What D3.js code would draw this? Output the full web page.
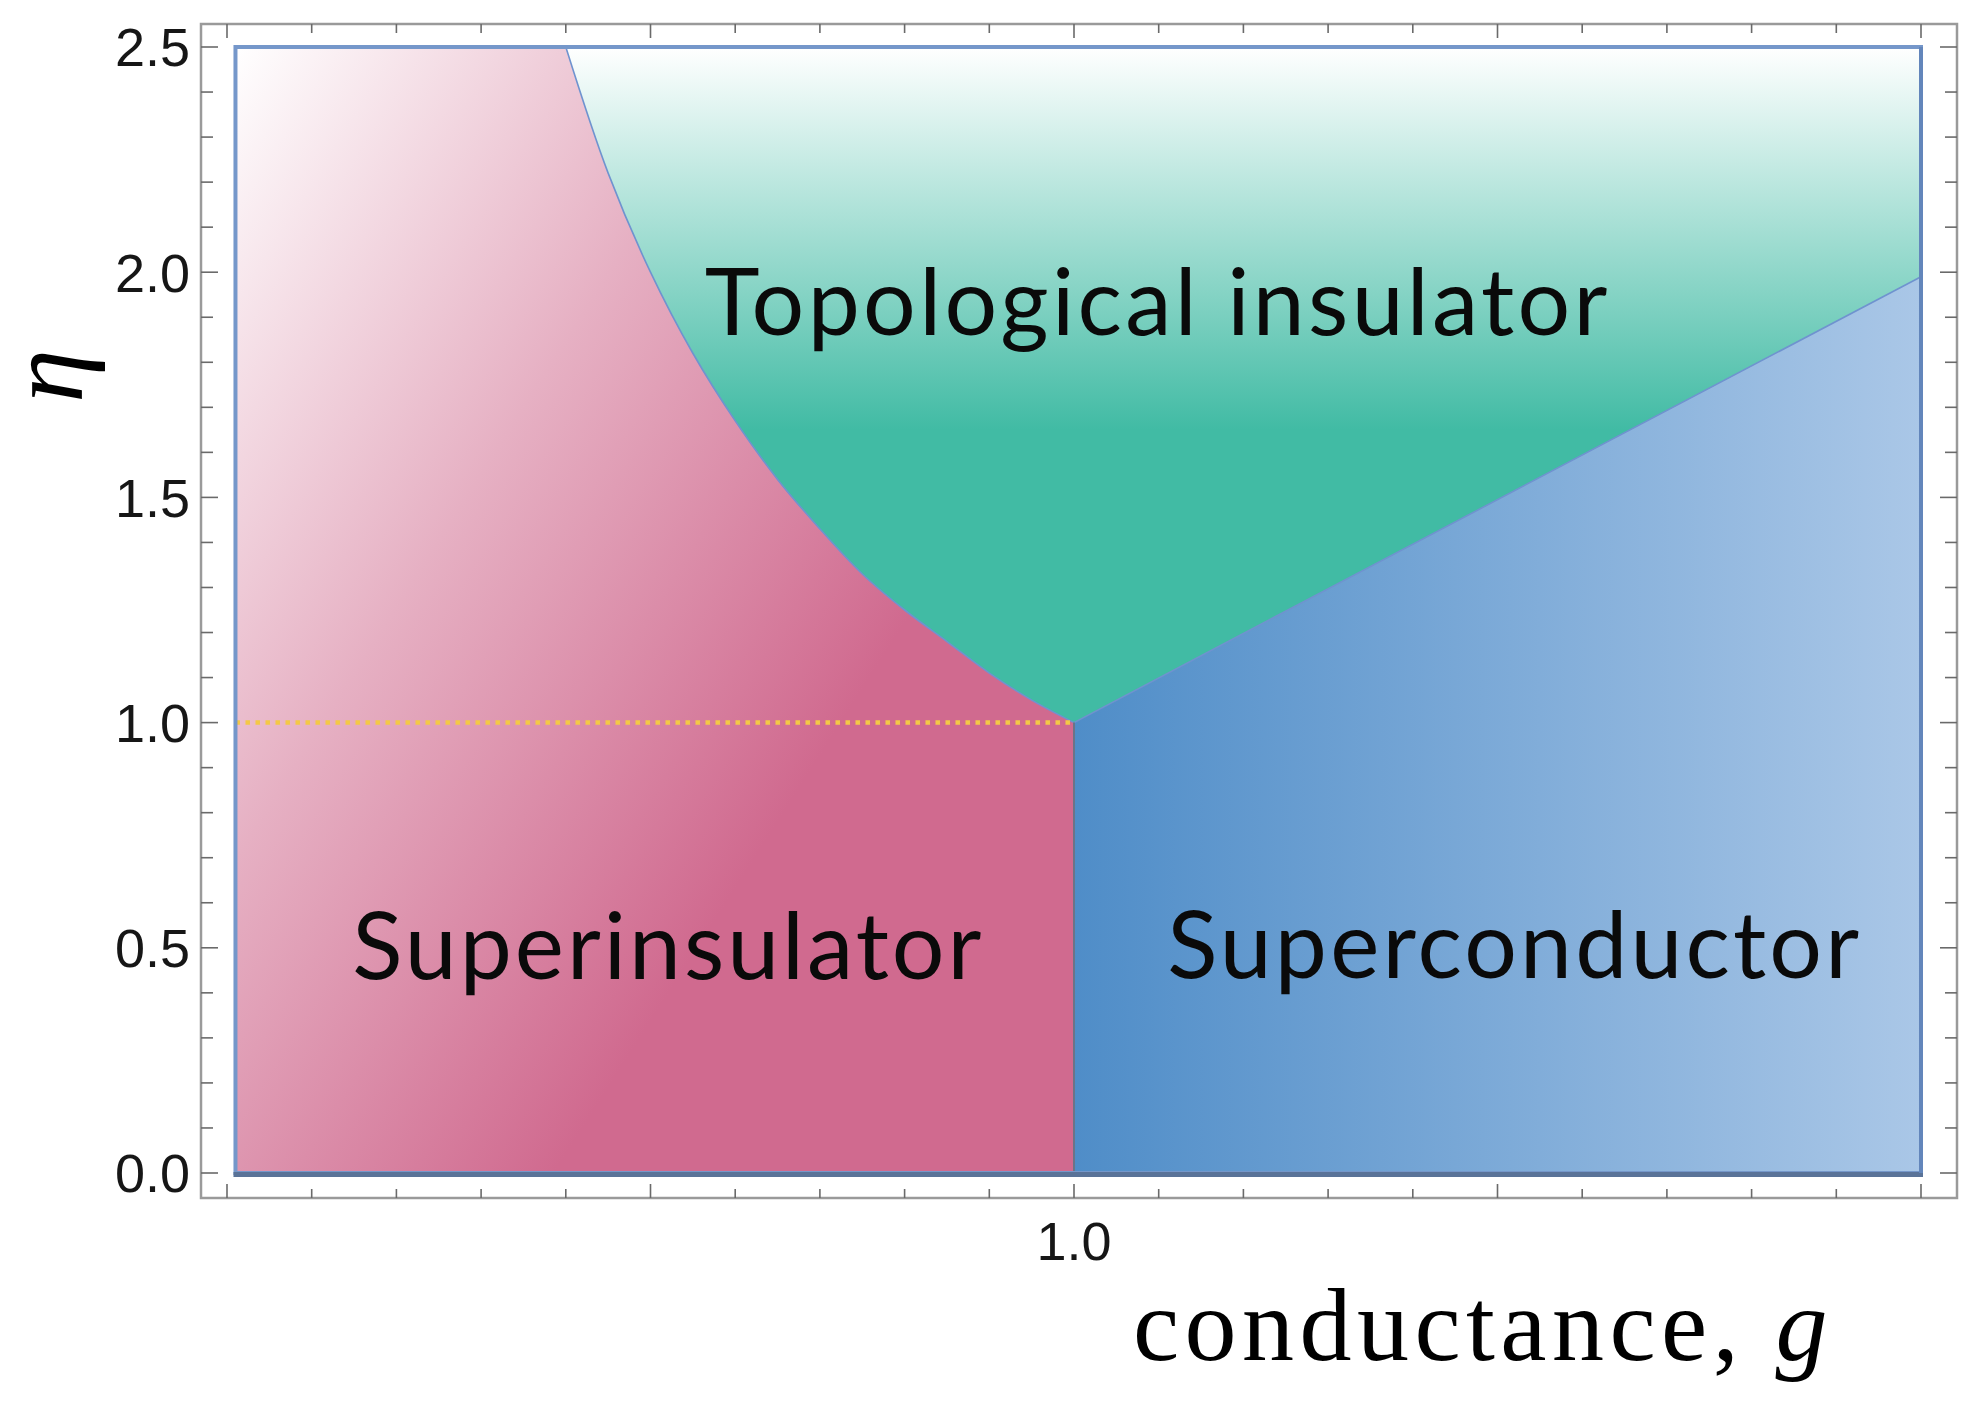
<!DOCTYPE html>
<html>
<head>
<meta charset="utf-8">
<script src="https://cdn.jsdelivr.net/npm/d3@7"></script>
<style>
  body { margin: 0; background: #ffffff; }
</style>
</head>
<body>
<div id="chart"></div>
<script>
// Boundary superinsulator / topological insulator
var siTiG   = [0.40, 0.45, 0.50, 0.55, 0.60, 0.65, 0.70, 0.75, 0.80, 0.85, 0.90, 0.95, 1.00];
var siTiEta = [2.50, 2.22, 2.00, 1.82, 1.67, 1.54, 1.43, 1.33, 1.25, 1.18, 1.11, 1.05, 1.00];

// Boundary superconductor / topological insulator
var scTiG   = [1.00, 2.00];
var scTiEta = [1.00, 1.99];

// Boundary superinsulator / superconductor
var siScG   = [1.00, 1.00];
var siScEta = [0.00, 1.00];

// Dotted line at eta = 1
var dotG   = [0.01, 1.00];
var dotEta = [1.00, 1.00];

// Extent of the coloured region
var gRange   = [0.01, 2.00];
var etaRange = [0.00, 2.50];

var phaseNames  = ["Topological insulator", "Superinsulator", "Superconductor"];
var yTickLabels = [0.0, 0.5, 1.0, 1.5, 2.0, 2.5];
var xTickLabels = [1.0];

var W = 1986, H = 1414;
var frame = { left: 201, right: 1957, top: 24, bottom: 1198 };

var svg = d3.select("#chart").append("svg")
    .attr("width", W)
    .attr("height", H);

var x = d3.scaleLinear().domain([0, 2]).range([227, 1921]);
var y = d3.scaleLinear().domain([0, 2.5]).range([1173, 47]);

function pts(gs, etas) { return gs.map(function (g, i) { return [g, etas[i]]; }); }
var straight = d3.line().x(function (d) { return x(d[0]); }).y(function (d) { return y(d[1]); });
var smooth = d3.line().x(function (d) { return x(d[0]); }).y(function (d) { return y(d[1]); })
    .curve(d3.curveCatmullRom);

// Gradients
var defs = svg.append("defs");

var pink = defs.append("linearGradient").attr("id", "pinkGrad")
    .attr("gradientUnits", "userSpaceOnUse")
    .attr("x1", x(0.88)).attr("y1", y(1.457))
    .attr("x2", x(0.01)).attr("y2", y(2.5));
pink.append("stop").attr("offset", 0).attr("stop-color", "#d06a8f");
pink.append("stop").attr("offset", 0.5).attr("stop-color", "#e6b0c3");
pink.append("stop").attr("offset", 1).attr("stop-color", "#ffffff");

var teal = defs.append("linearGradient").attr("id", "tealGrad")
    .attr("gradientUnits", "userSpaceOnUse")
    .attr("x1", 0).attr("y1", y(2.5))
    .attr("x2", 0).attr("y2", y(1.65));
teal.append("stop").attr("offset", 0).attr("stop-color", "#ffffff");
teal.append("stop").attr("offset", 1).attr("stop-color", "#41bba4");

var blue = defs.append("linearGradient").attr("id", "blueGrad")
    .attr("gradientUnits", "userSpaceOnUse")
    .attr("x1", x(1)).attr("y1", 0)
    .attr("x2", x(2)).attr("y2", 0);
blue.append("stop").attr("offset", 0).attr("stop-color", "#4f8dc8");
blue.append("stop").attr("offset", 1).attr("stop-color", "#aac7e7");

// Frame (gray box)
svg.append("rect")
    .attr("x", frame.left).attr("y", frame.top)
    .attr("width", frame.right - frame.left)
    .attr("height", frame.bottom - frame.top)
    .attr("fill", "none")
    .attr("stroke", "#9a9a9a")
    .attr("stroke-width", 2.5);

// Ticks on all four sides, pointing inward
var ticks = svg.append("g").attr("stroke", "#6a6a6a").attr("stroke-width", 1.6);
var xMinor = x.ticks(20), xMajor = x.ticks(4);
var yMinor = y.ticks(25), yMajor = y.ticks(5);

xMinor.forEach(function (v) {
  var major = xMajor.some(function (m) { return Math.abs(m - v) < 1e-9; });
  var len = major ? 14 : 9;
  ticks.append("line").attr("x1", x(v)).attr("x2", x(v))
      .attr("y1", frame.bottom).attr("y2", frame.bottom - len);
  ticks.append("line").attr("x1", x(v)).attr("x2", x(v))
      .attr("y1", frame.top).attr("y2", frame.top + len);
});
yMinor.forEach(function (v) {
  var major = yMajor.some(function (m) { return Math.abs(m - v) < 1e-9; });
  var len = major ? 17 : 12;
  ticks.append("line").attr("y1", y(v)).attr("y2", y(v))
      .attr("x1", frame.left).attr("x2", frame.left + len);
  ticks.append("line").attr("y1", y(v)).attr("y2", y(v))
      .attr("x1", frame.right).attr("x2", frame.right - len);
});

// Tick labels
svg.append("g").selectAll("text")
    .data(yTickLabels)
    .enter().append("text")
    .attr("x", frame.left - 11)
    .attr("y", function (d) { return y(d); })
    .attr("dy", "0.36em")
    .attr("text-anchor", "end")
    .style("font-family", "'Liberation Sans', Arial, sans-serif")
    .style("font-size", "54px")
    .style("fill", "#161616")
    .text(function (d) { return d.toFixed(1); });

svg.append("g").selectAll("text")
    .data(xTickLabels)
    .enter().append("text")
    .attr("x", function (d) { return x(d); })
    .attr("y", 1260)
    .attr("text-anchor", "middle")
    .style("font-family", "'Liberation Sans', Arial, sans-serif")
    .style("font-size", "54px")
    .style("fill", "#161616")
    .text(function (d) { return d.toFixed(1); });

// Phase regions
var plot = svg.append("g");

// superinsulator: whole box in pink, the other phases are painted on top
plot.append("rect")
    .attr("x", x(gRange[0])).attr("y", y(etaRange[1]))
    .attr("width", x(gRange[1]) - x(gRange[0]))
    .attr("height", y(etaRange[0]) - y(etaRange[1]))
    .attr("fill", "url(#pinkGrad)");

var curvePts = pts(siTiG, siTiEta);
var scTiPts = pts(scTiG, scTiEta);
var tiPath = smooth(curvePts)
    + "L" + x(scTiG[1]) + "," + y(scTiEta[1])
    + "L" + x(gRange[1]) + "," + y(etaRange[1]) + "Z";
plot.append("path").attr("d", tiPath).attr("fill", "url(#tealGrad)");

var scPts = [[siScG[0], etaRange[0]], [gRange[1], etaRange[0]], scTiPts[1], scTiPts[0]];
plot.append("path").attr("d", straight(scPts) + "Z").attr("fill", "url(#blueGrad)");

// Phase boundaries
plot.append("path").attr("d", smooth(curvePts))
    .attr("fill", "none").attr("stroke", "#6f93cf").attr("stroke-width", 1.6);
plot.append("path").attr("d", straight(scTiPts))
    .attr("fill", "none").attr("stroke", "#6f93cf").attr("stroke-width", 1.6);
plot.append("path").attr("d", straight(pts(siScG, siScEta)))
    .attr("fill", "none").attr("stroke", "#6b7488").attr("stroke-width", 2);
plot.append("path").attr("d", straight(pts(dotG, dotEta)))
    .attr("fill", "none").attr("stroke", "#f4c846").attr("stroke-width", 4.5)
    .attr("stroke-dasharray", "4.5,5.5");

// Outline of the region
plot.append("rect")
    .attr("x", x(gRange[0])).attr("y", y(etaRange[1]))
    .attr("width", x(gRange[1]) - x(gRange[0]))
    .attr("height", y(etaRange[0]) - y(etaRange[1]))
    .attr("fill", "none")
    .attr("stroke", "#7597ca")
    .attr("stroke-width", 4);
plot.append("line")
    .attr("x1", x(gRange[0]) - 2).attr("x2", x(gRange[1]) + 2)
    .attr("y1", y(etaRange[0]) + 1.5).attr("y2", y(etaRange[0]) + 1.5)
    .attr("stroke", "#5a7398").attr("stroke-width", 5);
plot.append("line")
    .attr("x1", x(gRange[1])).attr("x2", x(gRange[1]))
    .attr("y1", y(etaRange[1])).attr("y2", y(etaRange[0]))
    .attr("stroke", "#6386bb").attr("stroke-width", 4);

// Stretch a text element to a given width through letter-spacing
function fitWidth(sel, target) {
  var n = sel.text().length;
  var w = sel.node().getComputedTextLength();
  sel.style("letter-spacing", ((target - w) / n) + "px");
}

// Phase labels
var labelFont = "Lato, 'Open Sans', sans-serif";
var labels = [
  { name: phaseNames[0], g: 0.564, eta: 1.861, width: 906 },
  { name: phaseNames[1], g: 0.148, eta: 0.430, width: 632 },
  { name: phaseNames[2], g: 1.110, eta: 0.432, width: 695 }
];
labels.forEach(function (l) {
  var t = svg.append("text")
      .attr("x", x(l.g))
      .attr("y", y(l.eta))
      .style("font-family", labelFont)
      .style("font-size", "93px")
      .style("fill", "#0a0a0a")
      .text(l.name);
  fitWidth(t, l.width);
});

// Axis titles
var xTitle = svg.append("text")
    .attr("x", 1133)
    .attr("y", 1360)
    .style("font-family", "'Liberation Serif', 'Times New Roman', serif")
    .style("font-size", "104px")
    .style("fill", "#000");
xTitle.append("tspan").text("conductance, ");
xTitle.append("tspan").style("font-style", "italic").text("g");
(function () {
  var w = xTitle.node().getComputedTextLength();
  xTitle.style("letter-spacing", ((700 - w) / 14) + "px");
})();

svg.append("text")
    .attr("transform", "translate(82,376) rotate(-90)")
    .attr("text-anchor", "middle")
    .style("font-family", "'Liberation Serif', 'Times New Roman', serif")
    .style("font-style", "italic")
    .style("font-size", "108px")
    .style("fill", "#000")
    .text("η");
</script>
</body>
</html>
